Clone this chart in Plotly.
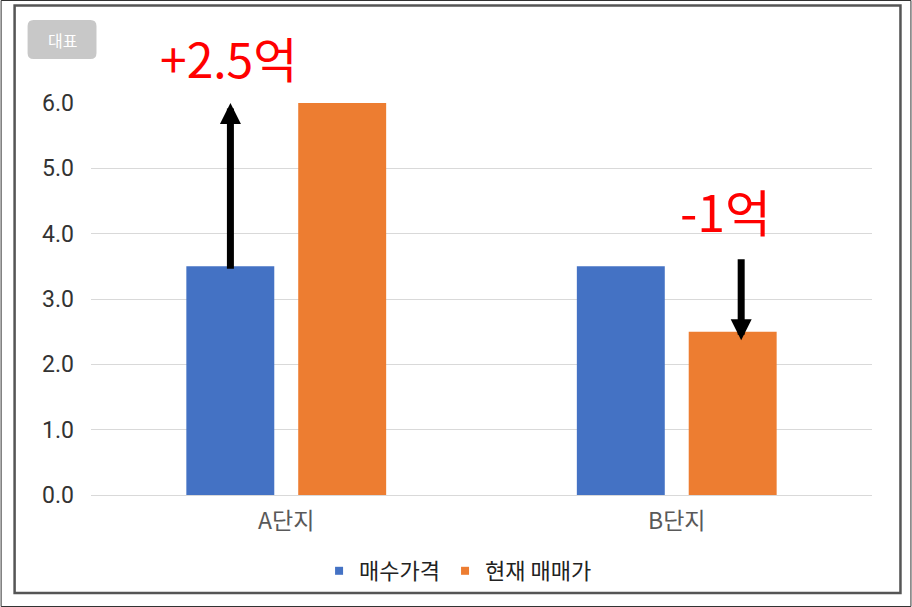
import plotly.graph_objects as go

categories = ["A단지", "B단지"]
series_names = ["매수가격", "현재 매매가"]
purchase = [3.5, 3.5]
current = [6.0, 2.5]
change_labels = ["+2.5억", "-1억"]
tick_vals = [0, 1, 2, 3, 4, 5, 6]
tick_text = ["0.0", "1.0", "2.0", "3.0", "4.0", "5.0", "6.0"]

W, H = 912, 607
L, R, T, B = 90.5, 39.5, 103, 112
PW, PH = W - L - R, H - T - B

def px(x):
    return (x - L) / PW

def py(y):
    return (H - B - y) / PH

BLUE = "#4472C4"
ORANGE = "#ED7D31"
FONT = "Noto Sans CJK KR"

fig = go.Figure()
fig.add_trace(go.Bar(x=categories, y=purchase, name=series_names[0],
                     marker=dict(color=BLUE, line=dict(width=0)), showlegend=False))
fig.add_trace(go.Bar(x=categories, y=current, name=series_names[1],
                     marker=dict(color=ORANGE, line=dict(width=0)), showlegend=False))
# legend entries with small square markers
fig.add_trace(go.Scatter(x=[None], y=[None], mode="markers", name=series_names[0],
                         marker=dict(symbol="square", size=8, color=BLUE)))
fig.add_trace(go.Scatter(x=[None], y=[None], mode="markers", name=series_names[1],
                         marker=dict(symbol="square", size=8, color=ORANGE)))

# arrows
fig.add_annotation(x=-0.143, y=current[0], ax=-0.143, ay=purchase[0] - 0.06,
                   xref="x", yref="y", axref="x", ayref="y", text="",
                   showarrow=True, arrowhead=2, arrowsize=0.6, arrowwidth=7,
                   arrowcolor="black", standoff=0)
fig.add_annotation(x=1.165, y=current[1] - 0.13, ax=1.165, ay=purchase[1] + 0.13,
                   xref="x", yref="y", axref="x", ayref="y", text="",
                   showarrow=True, arrowhead=2, arrowsize=0.6, arrowwidth=7,
                   arrowcolor="black", standoff=0)
# change labels
fig.add_annotation(x=-0.148, y=py(57), xref="x", yref="paper", text=change_labels[0],
                   xanchor="center", yanchor="middle", showarrow=False,
                   font=dict(family=FONT, size=48, color="#FF0000"))
fig.add_annotation(x=1.125, y=py(210), xref="x", yref="paper", text=change_labels[1],
                   xanchor="center", yanchor="middle", showarrow=False,
                   font=dict(family=FONT, size=50, color="#FF0000"))

# badge
x0, x1, y0, y1, r = px(27), px(96), py(20), py(59), 6
rx, ry = r / PW, r / PH
path = (f"M {x0+rx},{y0} L {x1-rx},{y0} Q {x1},{y0} {x1},{y0-ry} "
        f"L {x1},{y1+ry} Q {x1},{y1} {x1-rx},{y1} L {x0+rx},{y1} "
        f"Q {x0},{y1} {x0},{y1+ry} L {x0},{y0-ry} Q {x0},{y0} {x0+rx},{y0} Z")
fig.add_shape(type="path", path=path, xref="paper", yref="paper",
              fillcolor="#C8C8C8", line=dict(width=0), layer="above")
fig.add_annotation(x=px(62), y=py(40), xref="paper", yref="paper", text="대표",
                   xanchor="center", yanchor="middle", showarrow=False,
                   font=dict(family=FONT, size=16, color="white"))

# frames
fig.add_shape(type="rect", xref="paper", yref="paper",
              x0=px(0.5), x1=px(911.5), y0=py(0.5), y1=py(606.5),
              line=dict(color="#333333", width=1))
fig.add_shape(type="rect", xref="paper", yref="paper",
              x0=px(14), x1=px(901), y0=py(5.5), y1=py(593),
              line=dict(color="#555555", width=2.5))

fig.update_layout(
    width=W, height=H,
    margin=dict(l=L, r=R, t=T, b=B),
    paper_bgcolor="white", plot_bgcolor="white",
    barmode="group", bargap=0.427, bargroupgap=0.214,
    font=dict(family=FONT),
    showlegend=True,
    legend=dict(orientation="h", x=0.47, xanchor="center", y=py(571), yanchor="middle",
                font=dict(family=FONT, size=22, color="#222222"), itemwidth=30,
                bgcolor="rgba(0,0,0,0)"),
    xaxis=dict(showgrid=False, showline=False, ticks="", zeroline=False,
               tickfont=dict(family=FONT, size=23, color="#595959"),
               ticklabelstandoff=10, range=[-0.5, 1.5]),
    yaxis=dict(range=[0, 6], tickvals=tick_vals, ticktext=tick_text,
               showgrid=True, gridcolor="#D9D9D9", gridwidth=1,
               zeroline=True, zerolinecolor="#D9D9D9", zerolinewidth=1,
               showline=False, ticks="", ticklabelstandoff=16,
               tickfont=dict(family="Roboto", size=23, color="#333333")),
)

fig.write_html("out.html", config={"displayModeBar": False},
               post_script="document.body.style.margin='0';")
